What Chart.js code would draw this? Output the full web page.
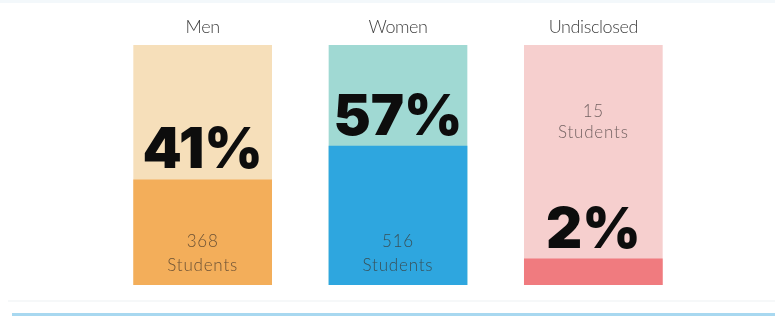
<!DOCTYPE html>
<html>
<head>
<meta charset="utf-8">
<script src="https://cdn.jsdelivr.net/npm/chart.js@4/dist/chart.umd.min.js"></script>
<style>
  html, body { margin: 0; padding: 0; background: #ffffff; }
  #wrap { width: 775px; height: 316px; position: relative; }
</style>
</head>
<body>
<div id="wrap"><canvas id="c" width="775" height="316"></canvas></div>
<script>
// ---- data ----
const categories = ['Men', 'Women', 'Undisclosed'];
const percentLabels = ['41%', '57%', '2%'];
const studentCounts = [368, 516, 15];
// drawn height of the filled part of each column (share of the full column, %)
const fillShare = [44, 58, 11];
// full column (backdrop) height
const fullColumn = [100, 100, 100];

const fillColors = ['#F3AE5A', '#2EA6DF', '#F07B7F'];
const backColors = ['#F6DFBA', '#A0D9D3', '#F6CFCE'];

const decor = {
  id: 'decor',
  beforeDraw(chart) {
    const ctx = chart.ctx;
    ctx.save();
    ctx.fillStyle = '#ffffff';
    ctx.fillRect(0, 0, chart.width, chart.height);
    ctx.fillStyle = '#F3F8FB';
    ctx.fillRect(0, 0, chart.width, 3);
    ctx.fillStyle = '#F6F8F9';
    ctx.fillRect(8, 300, chart.width - 8, 2);
    ctx.fillStyle = '#A8D8F0';
    ctx.fillRect(12, 313, chart.width - 12, 3);
    ctx.restore();
  },
  afterDatasetsDraw(chart) {
    const ctx = chart.ctx;
    const x = chart.scales.x, y = chart.scales.y;
    ctx.save();
    ctx.textAlign = 'center';
    // category titles
    ctx.font = '300 18px Lato, "Liberation Sans", sans-serif';
    ctx.letterSpacing = '-0.4px';
    ctx.fillStyle = '#3f3f3f';
    ctx.textBaseline = 'alphabetic';
    categories.forEach((c, i) => {
      ctx.fillText(c, x.getPixelForValue(i), 33);
    });
    // big percentages
    ctx.letterSpacing = '0px';
    ctx.font = '900 56px Inter, "Liberation Sans", sans-serif';
    ctx.fillStyle = '#0d0d0d';
    percentLabels.forEach((p, i) => {
      const top = y.getPixelForValue(fillShare[i]);
      ctx.fillText(p, x.getPixelForValue(i), top - 11);
    });
    // student counts
    ctx.font = '300 17px Lato, "Open Sans", sans-serif';
    ctx.letterSpacing = '0.8px';
    ctx.textBaseline = 'middle';
    studentCounts.forEach((n, i) => {
      const cx = x.getPixelForValue(i);
      let y1, y2;
      if (fillShare[i] > 30) {
        const bottom = y.getPixelForValue(0);
        y1 = bottom - 43; y2 = bottom - 19;
        ctx.fillStyle = 'rgba(60,50,40,0.75)';
      } else {
        const topPx = y.getPixelForValue(100);
        y1 = topPx + 67; y2 = topPx + 88;
        ctx.fillStyle = 'rgba(70,60,60,0.75)';
      }
      ctx.fillText(String(n), cx, y1);
      ctx.fillText('Students', cx, y2);
    });
    ctx.restore();
  }
};

new Chart(document.getElementById('c'), {
  type: 'bar',
  data: {
    labels: categories,
    datasets: [
      { label: 'fill', data: fillShare, backgroundColor: fillColors, order: 1, grouped: false },
      { label: 'column', data: fullColumn, backgroundColor: backColors, order: 2, grouped: false }
    ]
  },
  options: {
    responsive: false,
    animation: false,
    devicePixelRatio: 1,
    layout: { padding: { top: 45, bottom: 31, left: 105, right: 84 } },
    datasets: { bar: { categoryPercentage: 1, barPercentage: 0.71 } },
    plugins: { legend: { display: false }, tooltip: { enabled: false } },
    scales: {
      x: { display: false },
      y: { display: false, min: 0, max: 100 }
    }
  },
  plugins: [decor]
});
</script>
</body>
</html>
